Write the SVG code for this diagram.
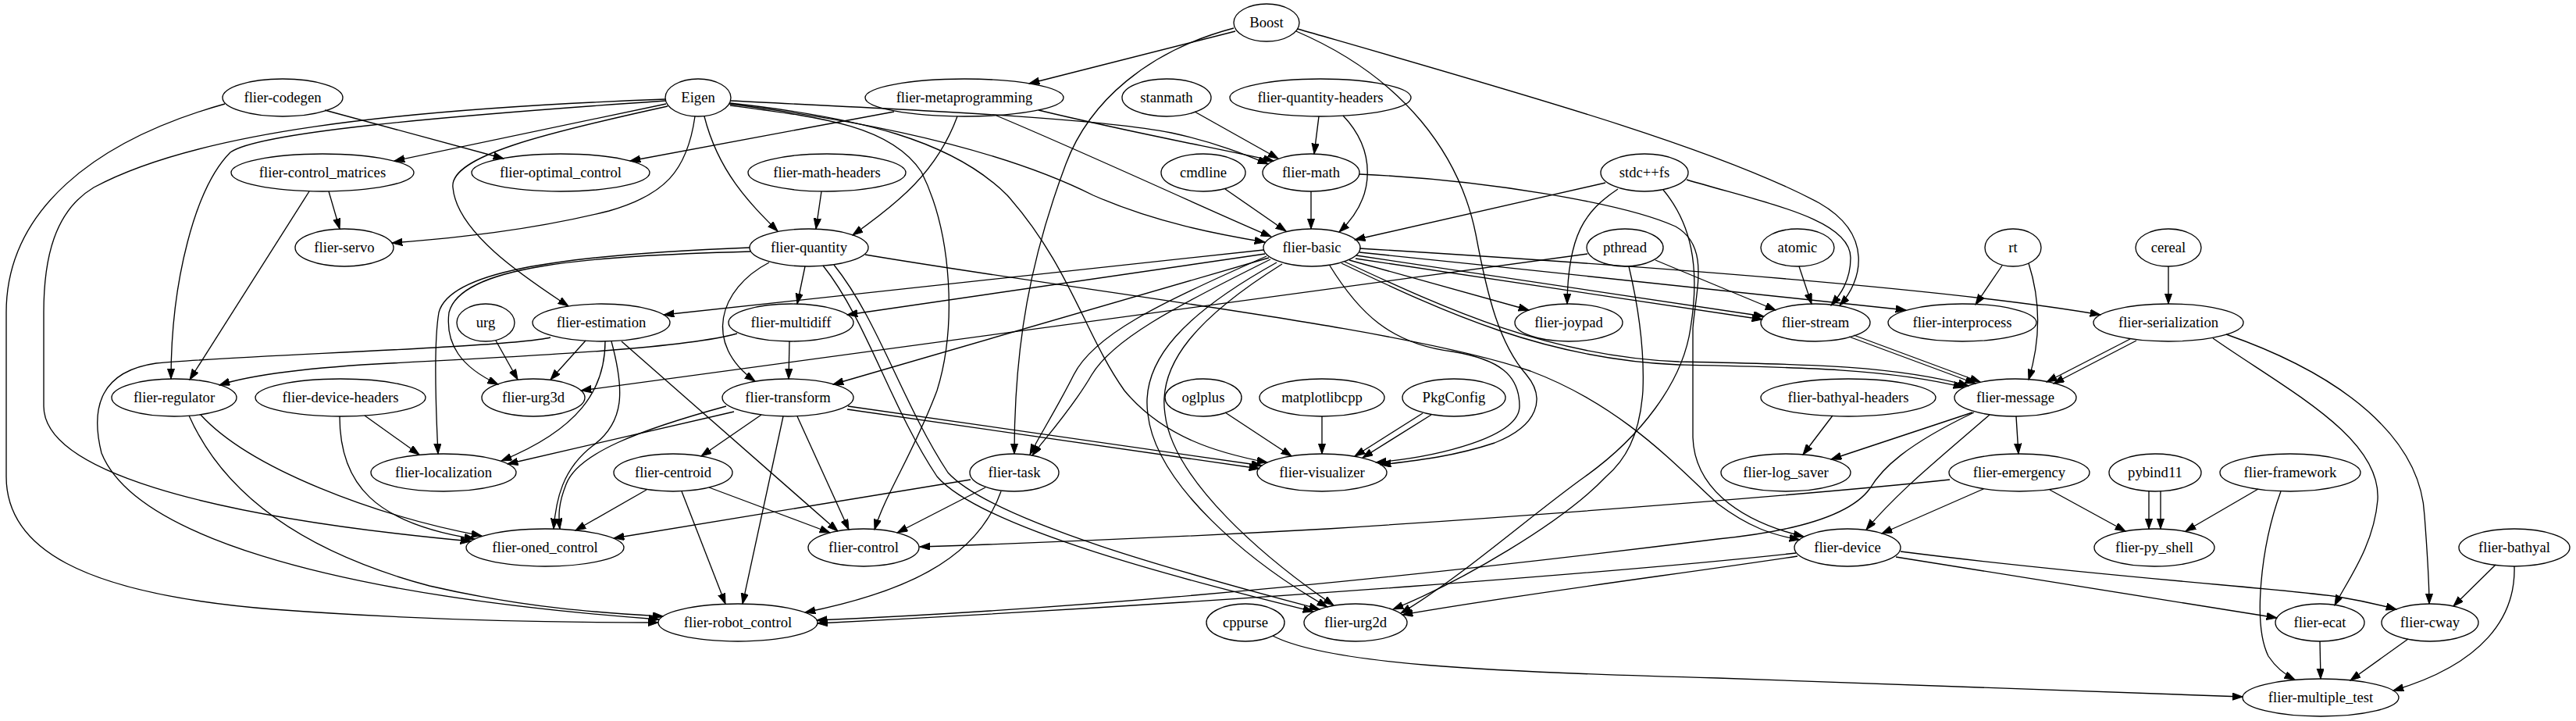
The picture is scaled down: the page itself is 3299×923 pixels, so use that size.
<svg xmlns="http://www.w3.org/2000/svg" width="3299" height="923" viewBox="0 0 3299 923">
<defs>
<marker id="ah" markerWidth="14" markerHeight="10" refX="13.3" refY="4.65" orient="auto" markerUnits="userSpaceOnUse"><path d="M0,0 L13.3,4.65 L0,9.3 z" fill="#000" stroke="#000" stroke-width="1"/></marker>
<style>
.n ellipse{fill:none;stroke:#000;stroke-width:1.33}
.n text{font-family:"Liberation Serif","Times New Roman",serif;font-size:18.67px;text-anchor:middle;fill:#000}
#edges path{fill:none;stroke:#000;stroke-width:1.33;marker-end:url(#ah)}
</style>
</defs>
<rect width="3299" height="923" fill="#fff"/>
<g id="edges">
<path d="M1582,40 L1318,107"/>
<path d="M1580,36 C1470,65 1395,130 1365,210 C1320,330 1299,440 1299,581"/>
<path d="M1660,40 C1800,100 1870,200 1890,300 C1905,380 1920,440 1955,480 C1980,510 1970,545 1914,567 C1860,585 1810,590 1768,595"/>
<path d="M1703,340 C1740,400 1780,440 1860,450 C1920,460 1946,480 1946,520 C1946,560 1840,585 1762,592"/>
<path d="M1662,37 C1950,120 2200,190 2330,260 C2400,300 2385,360 2356,391"/>
<path d="M2160,230 C2260,260 2370,280 2370,330 C2370,360 2356,378 2345,391"/>
<path d="M2304,341 L2320,389"/>
<path d="M2120,333 L2274,397"/>
<path d="M1737,327 L2259,405"/>
<path d="M1736,331 L2257,409"/>
<path d="M1741,323 C2000,350 2300,380 2441,397"/>
<path d="M1741,318 C2100,340 2500,370 2690,403"/>
<path d="M1728,333 L1958,397"/>
<path d="M1718,337 C1850,400 1980,460 2150,467 C2300,470 2420,472 2515,496"/>
<path d="M1722,335 C1855,397 1985,456 2150,463 C2300,466 2425,467 2521,494"/>
<path d="M2368,431 L2530,491"/>
<path d="M2374,429 L2536,489"/>
<path d="M2598,337 C2615,390 2612,440 2598,486"/>
<path d="M2564,340 L2530,390"/>
<path d="M2777,341 L2777,389"/>
<path d="M2728,434 L2621,489"/>
<path d="M2736,436 L2630,491"/>
<path d="M2834,433 C2930,500 3050,560 3045,640 C3040,700 3005,745 2990,775"/>
<path d="M2851,428 C3000,480 3100,560 3105,660 C3108,700 3111,740 3111,773"/>
<path d="M2752,629 L2752,677"/>
<path d="M2767,629 L2767,677"/>
<path d="M2892,626 L2799,680"/>
<path d="M2921,629 C2895,700 2885,800 2905,840 C2915,855 2925,863 2939,870"/>
<path d="M2625,627 L2722,680"/>
<path d="M2540,626 L2410,683"/>
<path d="M2497,614 C2350,630 2000,658 1700,677 C1500,688 1300,696 1178,700"/>
<path d="M2526,528 L2345,588"/>
<path d="M2347,532 L2309,582"/>
<path d="M2582,533 L2585,581"/>
<path d="M2548,531 C2480,590 2430,630 2390,678"/>
<path d="M2528,528 C2440,570 2410,600 2395,625 C2370,660 2300,680 2200,690 C2000,715 1500,775 1046,794"/>
<path d="M2300,708 C2100,730 1600,770 1047,798"/>
<path d="M2302,712 C2150,735 1950,760 1796,787"/>
<path d="M2428,713 L2916,791"/>
<path d="M2434,706 C2700,740 2950,755 3000,765 C3030,770 3050,775 3069,780"/>
<path d="M3196,723 L3142,776"/>
<path d="M3220,725 C3222,790 3180,850 3065,884"/>
<path d="M2971,821 L2972,869"/>
<path d="M3084,818 L3010,871"/>
<path d="M1630,814 C1700,850 1900,860 2200,868 C2500,877 2700,887 2872,892"/>
<path d="M1108,326 C1400,375 1800,420 1960,475 C2080,520 2150,600 2200,645 C2240,675 2270,685 2305,691"/>
<path d="M1741,223 C1900,230 2080,260 2146,290 C2190,315 2172,370 2168,420 L2168,560 C2170,620 2220,665 2310,687"/>
<path d="M2056,234 L1735,307"/>
<path d="M2072,242 C2030,270 2008,300 2007,389"/>
<path d="M2130,243 C2165,285 2178,340 2165,420 C2155,490 2100,560 2030,610 C1960,660 1870,740 1794,785"/>
<path d="M2086,341 C2100,400 2106,450 2104,500 C2100,560 2080,590 2057,610 C2000,670 1870,745 1784,780"/>
<path d="M2033,325 L744,500"/>
<path d="M1569,242 L1647,296"/>
<path d="M1679,245 L1679,293"/>
<path d="M1689,149 L1683,197"/>
<path d="M1720,148 C1760,190 1765,250 1715,297"/>
<path d="M1530,143 L1637,203"/>
<path d="M1330,141 C1450,170 1560,190 1631,206"/>
<path d="M1276,148 C1400,200 1550,270 1628,303"/>
<path d="M1226,149 C1200,220 1150,260 1092,301"/>
<path d="M1145,143 L807,206"/>
<path d="M853,133 L505,206"/>
<path d="M416,141 L645,203"/>
<path d="M288,133 C120,180 8,270 8,400 L8,610 C8,700 100,760 350,780 C550,795 750,797 843,797"/>
<path d="M852,127 C500,140 250,170 120,240 C70,270 56,330 56,400 L56,520 C56,600 250,660 603,693"/>
<path d="M852,129 C550,150 330,170 295,195 C250,240 219,360 219,485"/>
<path d="M890,149 C880,220 850,250 780,270 C680,295 580,305 502,311"/>
<path d="M902,149 C920,220 960,260 996,296"/>
<path d="M855,136 C700,170 575,200 580,240 C585,300 680,360 728,392"/>
<path d="M936,129 C1150,140 1400,150 1500,170 C1560,183 1600,200 1624,210"/>
<path d="M934,133 C1150,160 1300,200 1400,250 C1480,285 1560,300 1620,310"/>
<path d="M935,135 C1050,150 1140,160 1180,220 C1220,300 1225,420 1200,500 C1170,580 1135,630 1120,678"/>
<path d="M935,132 C1100,150 1220,180 1290,250 C1370,340 1390,430 1440,500 C1490,560 1560,580 1623,592"/>
<path d="M421,245 L435,293"/>
<path d="M396,245 L243,486"/>
<path d="M1052,245 L1045,293"/>
<path d="M944,427 C880,445 700,455 500,465 C400,470 320,480 281,493"/>
<path d="M705,432 C650,445 300,455 200,465 C130,475 115,520 130,580 C170,680 400,760 844,793"/>
<path d="M242,532 C290,640 400,710 550,750 C680,780 780,785 849,789"/>
<path d="M257,531 C320,600 480,660 617,686"/>
<path d="M467,532 L537,582"/>
<path d="M435,533 C435,620 480,670 608,690"/>
<path d="M635,436 L663,486"/>
<path d="M750,436 L705,486"/>
<path d="M961,322 C750,328 590,340 575,400 C570,440 590,470 638,492"/>
<path d="M960,317 C700,327 575,350 562,400 C555,440 558,520 561,581"/>
<path d="M775,437 C775,500 740,550 642,590"/>
<path d="M783,437 C800,500 800,540 760,570 C720,600 712,640 709,677"/>
<path d="M796,437 L1073,680"/>
<path d="M1011,437 L1010,485"/>
<path d="M1031,341 L1021,389"/>
<path d="M985,336 C920,370 900,440 967,488"/>
<path d="M1054,340 C1110,410 1140,520 1200,610 C1260,680 1550,750 1682,783"/>
<path d="M1068,339 C1125,410 1155,515 1214,605 C1275,672 1560,745 1690,780"/>
<path d="M1635,336 C1520,400 1460,460 1470,530 C1480,620 1600,720 1700,777"/>
<path d="M1642,338 C1535,405 1482,465 1492,530 C1502,615 1620,715 1708,775"/>
<path d="M1622,328 C1480,390 1400,430 1375,480 C1355,520 1330,560 1319,582"/>
<path d="M1627,332 C1500,395 1425,435 1398,480 C1372,525 1335,565 1322,583"/>
<path d="M1618,320 L850,403"/>
<path d="M1620,325 L1085,403"/>
<path d="M1625,330 L1067,492"/>
<path d="M940,527 L650,594"/>
<path d="M930,520 C820,550 740,580 725,620 C715,645 715,660 717,677"/>
<path d="M975,531 L898,584"/>
<path d="M1003,533 L951,773"/>
<path d="M1021,533 L1087,678"/>
<path d="M1086,520 L1616,596"/>
<path d="M1085,524 L1613,600"/>
<path d="M828,627 L737,679"/>
<path d="M873,629 L929,773"/>
<path d="M908,624 L1063,682"/>
<path d="M1243,614 L786,689"/>
<path d="M1262,624 L1149,682"/>
<path d="M1282,629 C1250,720 1150,760 1031,784"/>
<path d="M1569,528 L1654,584"/>
<path d="M1693,533 L1693,581"/>
<path d="M1822,529 L1735,584"/>
<path d="M1833,531 L1745,586"/>
</g>
<g id="n-boost" class="n"><ellipse cx="1622" cy="29" rx="42" ry="24"/><text x="1622" y="35">Boost</text></g>
<g id="n-codegen" class="n"><ellipse cx="362" cy="125" rx="77" ry="24"/><text x="362" y="131">flier-codegen</text></g>
<g id="n-eigen" class="n"><ellipse cx="894" cy="125" rx="42" ry="24"/><text x="894" y="131">Eigen</text></g>
<g id="n-metaprogramming" class="n"><ellipse cx="1235" cy="125" rx="127" ry="24"/><text x="1235" y="131">flier-metaprogramming</text></g>
<g id="n-stanmath" class="n"><ellipse cx="1494" cy="125" rx="57" ry="24"/><text x="1494" y="131">stanmath</text></g>
<g id="n-quantity-headers" class="n"><ellipse cx="1691" cy="125" rx="116" ry="24"/><text x="1691" y="131">flier-quantity-headers</text></g>
<g id="n-control_matrices" class="n"><ellipse cx="413" cy="221" rx="117" ry="24"/><text x="413" y="227">flier-control_matrices</text></g>
<g id="n-optimal_control" class="n"><ellipse cx="718" cy="221" rx="114" ry="24"/><text x="718" y="227">flier-optimal_control</text></g>
<g id="n-math-headers" class="n"><ellipse cx="1059" cy="221" rx="101" ry="24"/><text x="1059" y="227">flier-math-headers</text></g>
<g id="n-cmdline" class="n"><ellipse cx="1541" cy="221" rx="54" ry="24"/><text x="1541" y="227">cmdline</text></g>
<g id="n-math" class="n"><ellipse cx="1679" cy="221" rx="62" ry="24"/><text x="1679" y="227">flier-math</text></g>
<g id="n-stdcxxfs" class="n"><ellipse cx="2106" cy="221" rx="56" ry="24"/><text x="2106" y="227">stdc++fs</text></g>
<g id="n-servo" class="n"><ellipse cx="441" cy="317" rx="63" ry="24"/><text x="441" y="323">flier-servo</text></g>
<g id="n-quantity" class="n"><ellipse cx="1036" cy="317" rx="76" ry="24"/><text x="1036" y="323">flier-quantity</text></g>
<g id="n-basic" class="n"><ellipse cx="1680" cy="317" rx="62" ry="24"/><text x="1680" y="323">flier-basic</text></g>
<g id="n-pthread" class="n"><ellipse cx="2081" cy="317" rx="49" ry="24"/><text x="2081" y="323">pthread</text></g>
<g id="n-atomic" class="n"><ellipse cx="2302" cy="317" rx="47" ry="24"/><text x="2302" y="323">atomic</text></g>
<g id="n-rt" class="n"><ellipse cx="2578" cy="317" rx="36" ry="24"/><text x="2578" y="323">rt</text></g>
<g id="n-cereal" class="n"><ellipse cx="2777" cy="317" rx="42" ry="24"/><text x="2777" y="323">cereal</text></g>
<g id="n-urg" class="n"><ellipse cx="622" cy="413" rx="37" ry="24"/><text x="622" y="419">urg</text></g>
<g id="n-estimation" class="n"><ellipse cx="770" cy="413" rx="88" ry="24"/><text x="770" y="419">flier-estimation</text></g>
<g id="n-multidiff" class="n"><ellipse cx="1013" cy="413" rx="80" ry="24"/><text x="1013" y="419">flier-multidiff</text></g>
<g id="n-joypad" class="n"><ellipse cx="2009" cy="413" rx="69" ry="24"/><text x="2009" y="419">flier-joypad</text></g>
<g id="n-stream" class="n"><ellipse cx="2325" cy="413" rx="70" ry="24"/><text x="2325" y="419">flier-stream</text></g>
<g id="n-interprocess" class="n"><ellipse cx="2513" cy="413" rx="95" ry="24"/><text x="2513" y="419">flier-interprocess</text></g>
<g id="n-serialization" class="n"><ellipse cx="2777" cy="413" rx="96" ry="24"/><text x="2777" y="419">flier-serialization</text></g>
<g id="n-regulator" class="n"><ellipse cx="223" cy="509" rx="80" ry="24"/><text x="223" y="515">flier-regulator</text></g>
<g id="n-device-headers" class="n"><ellipse cx="436" cy="509" rx="109" ry="24"/><text x="436" y="515">flier-device-headers</text></g>
<g id="n-urg3d" class="n"><ellipse cx="683" cy="509" rx="66" ry="24"/><text x="683" y="515">flier-urg3d</text></g>
<g id="n-transform" class="n"><ellipse cx="1009" cy="509" rx="84" ry="24"/><text x="1009" y="515">flier-transform</text></g>
<g id="n-oglplus" class="n"><ellipse cx="1541" cy="509" rx="49" ry="24"/><text x="1541" y="515">oglplus</text></g>
<g id="n-matplotlibcpp" class="n"><ellipse cx="1693" cy="509" rx="80" ry="24"/><text x="1693" y="515">matplotlibcpp</text></g>
<g id="n-pkgconfig" class="n"><ellipse cx="1862" cy="509" rx="66" ry="24"/><text x="1862" y="515">PkgConfig</text></g>
<g id="n-bathyal-headers" class="n"><ellipse cx="2367" cy="509" rx="112" ry="24"/><text x="2367" y="515">flier-bathyal-headers</text></g>
<g id="n-message" class="n"><ellipse cx="2581" cy="509" rx="78" ry="24"/><text x="2581" y="515">flier-message</text></g>
<g id="n-localization" class="n"><ellipse cx="568" cy="605" rx="93" ry="24"/><text x="568" y="611">flier-localization</text></g>
<g id="n-centroid" class="n"><ellipse cx="862" cy="605" rx="76" ry="24"/><text x="862" y="611">flier-centroid</text></g>
<g id="n-task" class="n"><ellipse cx="1299" cy="605" rx="57" ry="24"/><text x="1299" y="611">flier-task</text></g>
<g id="n-visualizer" class="n"><ellipse cx="1693" cy="605" rx="83" ry="24"/><text x="1693" y="611">flier-visualizer</text></g>
<g id="n-log_saver" class="n"><ellipse cx="2287" cy="605" rx="83" ry="24"/><text x="2287" y="611">flier-log_saver</text></g>
<g id="n-emergency" class="n"><ellipse cx="2586" cy="605" rx="90" ry="24"/><text x="2586" y="611">flier-emergency</text></g>
<g id="n-pybind11" class="n"><ellipse cx="2760" cy="605" rx="59" ry="24"/><text x="2760" y="611">pybind11</text></g>
<g id="n-framework" class="n"><ellipse cx="2933" cy="605" rx="90" ry="24"/><text x="2933" y="611">flier-framework</text></g>
<g id="n-oned_control" class="n"><ellipse cx="698" cy="701" rx="101" ry="24"/><text x="698" y="707">flier-oned_control</text></g>
<g id="n-control" class="n"><ellipse cx="1106" cy="701" rx="71" ry="24"/><text x="1106" y="707">flier-control</text></g>
<g id="n-device" class="n"><ellipse cx="2366" cy="701" rx="68" ry="24"/><text x="2366" y="707">flier-device</text></g>
<g id="n-py_shell" class="n"><ellipse cx="2759" cy="701" rx="77" ry="24"/><text x="2759" y="707">flier-py_shell</text></g>
<g id="n-bathyal" class="n"><ellipse cx="3220" cy="701" rx="71" ry="24"/><text x="3220" y="707">flier-bathyal</text></g>
<g id="n-robot_control" class="n"><ellipse cx="945" cy="797" rx="102" ry="24"/><text x="945" y="803">flier-robot_control</text></g>
<g id="n-cppurse" class="n"><ellipse cx="1595" cy="797" rx="50" ry="24"/><text x="1595" y="803">cppurse</text></g>
<g id="n-urg2d" class="n"><ellipse cx="1736" cy="797" rx="66" ry="24"/><text x="1736" y="803">flier-urg2d</text></g>
<g id="n-ecat" class="n"><ellipse cx="2971" cy="797" rx="57" ry="24"/><text x="2971" y="803">flier-ecat</text></g>
<g id="n-cway" class="n"><ellipse cx="3112" cy="797" rx="62" ry="24"/><text x="3112" y="803">flier-cway</text></g>
<g id="n-multiple_test" class="n"><ellipse cx="2972" cy="893" rx="100" ry="24"/><text x="2972" y="899">flier-multiple_test</text></g>
</svg>
